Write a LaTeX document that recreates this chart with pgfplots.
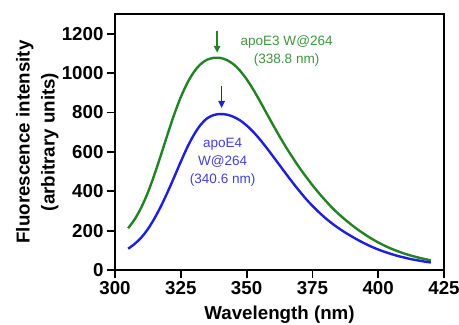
\documentclass[border=0pt]{standalone}
\usepackage{fontspec}
\setmainfont{Liberation Sans}
\usepackage{pgfplots}
\pgfplotsset{compat=1.18}
\usetikzlibrary{arrows.meta}
\definecolor{cgreen}{RGB}{35,130,35}
\definecolor{cblue}{RGB}{30,30,225}
\definecolor{tgreen}{RGB}{60,150,60}
\definecolor{tblue}{RGB}{65,65,215}
\begin{document}
\begin{tikzpicture}
\begin{axis}[
  at={(0,0)}, anchor=south west,
  width=329bp, height=256bp, scale only axis,
  xmin=300, xmax=425, ymin=0, ymax=1300,
  xtick={300,325,350,375,400,425},
  ytick={0,200,400,600,800,1000,1200},
  xtick pos=bottom, ytick pos=left,
  tick align=outside,
  major tick length=8bp,
  axis line style={line width=1.8bp},
  every tick/.style={line width=1.8bp, black},
  /pgf/number format/assume math mode=true,
  /pgf/number format/1000 sep={},
  tick label style={font=\fontsize{18.8}{22}\selectfont\bfseries},
  clip=false,
  xlabel={Wavelength (nm)},
  ylabel={Fluorescence intensity\\(arbitrary units)},
  every axis x label/.style={at={(axis cs:362.5,-229)}, anchor=center, font=\fontsize{18.8}{22}\selectfont\bfseries},
  every axis y label/.style={at={(axis cs:270.5,650)}, anchor=center, rotate=90, align=center, font=\fontsize{18.8}{25}\selectfont\bfseries},
]
\addplot[cgreen, line width=2.4bp, smooth] coordinates {
(305,212) (307.5,258) (310,318) (312.5,394) (315,485) (317.5,586) (320,690) (322.5,790) (325,878) (327.5,950) (330,1006) (332.5,1045) (335,1068) (337.5,1077) (340,1077) (342.5,1066) (345,1045) (347.5,1012) (350,969) (352.5,917) (355,859) (357.5,798) (360,738) (362.5,679) (365,623) (367.5,571) (370,521) (372.5,475) (375,431) (377.5,390) (380,352) (382.5,316) (385,284) (387.5,255) (390,228) (392.5,203) (395,180) (397.5,159) (400,140) (402.5,123) (405,108) (407.5,95) (410,83) (412.5,73) (415,64) (417.5,56) (420,49)
};
\addplot[cblue, line width=2.4bp, smooth] coordinates {
(305,108) (307.5,133) (310,165) (312.5,208) (315,262) (317.5,325) (320,396) (322.5,472) (325,550) (327.5,624) (330,687) (332.5,737) (335,770) (337.5,787) (340,792) (342.5,789) (345,778) (347.5,760) (350,734) (352.5,702) (355,664) (357.5,622) (360,578) (362.5,533) (365,488) (367.5,444) (370,402) (372.5,362) (375,326) (377.5,293) (380,263) (382.5,236) (385,212) (387.5,190) (390,170) (392.5,151) (395,134) (397.5,118) (400,104) (402.5,92) (405,81) (407.5,71) (410,63) (412.5,55) (415,49) (417.5,43) (420,38)
};
\draw[cgreen, line width=1.5bp, -{Triangle[length=7bp,width=6.5bp]}] (axis cs:338.8,1215) -- (axis cs:338.8,1103);
\draw[cblue, line width=1.5bp, -{Triangle[length=7bp,width=6.5bp]}] (axis cs:340.5,935) -- (axis cs:340.5,823);
\node[tgreen, align=center, font=\fontsize{13.6}{18.3}\selectfont] at (axis cs:365.2,1114) {apoE3 W@264\\(338.8 nm)};
\node[tblue, align=center, font=\fontsize{13.6}{18.3}\selectfont] at (axis cs:340.9,548) {apoE4\\W@264\\(340.6 nm)};
\end{axis}
\pgfresetboundingbox
\path[use as bounding box] (-115bp,-55bp) rectangle (344bp,270bp);
\end{tikzpicture}
\end{document}
